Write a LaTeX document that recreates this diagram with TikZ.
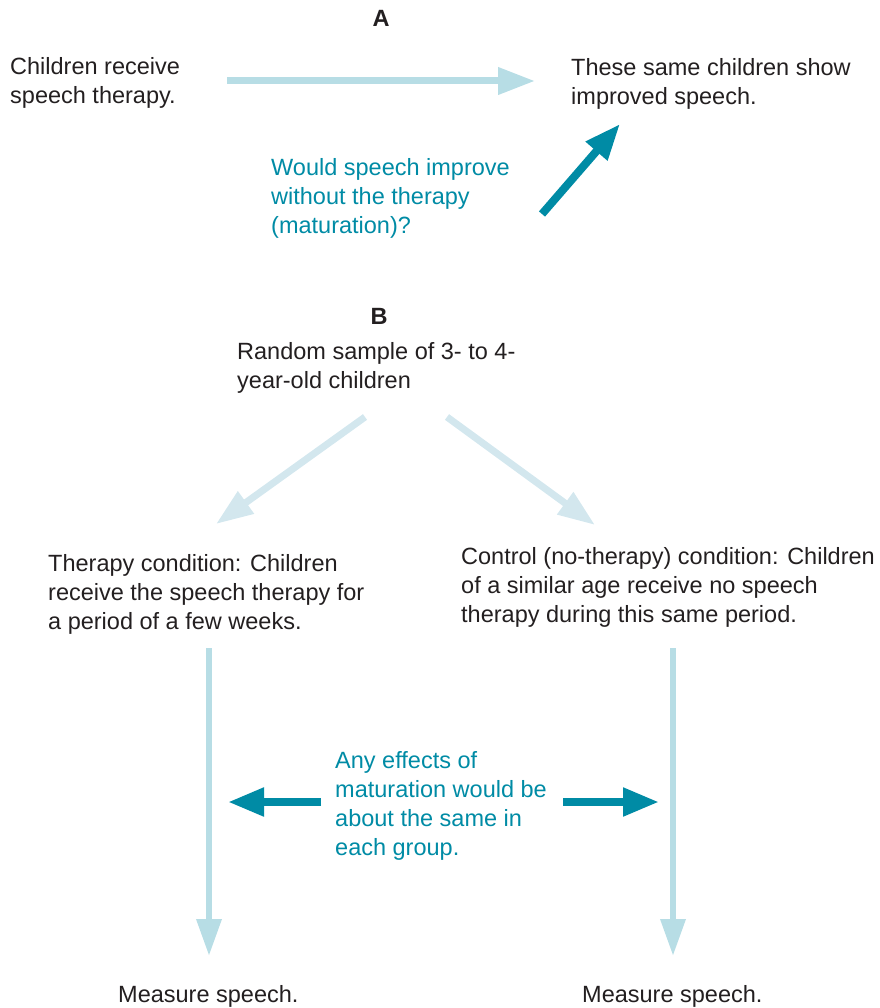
\documentclass[tikz,border=0pt]{standalone}
\usepackage{fontspec}
\setmainfont{Liberation Sans}
\usetikzlibrary{arrows.meta}
\definecolor{paleblue}{RGB}{183,221,229}
\definecolor{fadedblue}{RGB}{211,231,238}
\definecolor{darkteal}{RGB}{0,139,165}
\definecolor{inkgray}{RGB}{35,31,32}

\begin{document}
\begin{tikzpicture}[x=1pt, y=-1pt,
    txt/.style={anchor=north west, align=left, inner sep=0pt, text=inkgray, font=\fontsize{23.5}{29}\selectfont},
    qtxt/.style={txt, text=darkteal},
    lbl/.style={inner sep=0pt, text=inkgray, font=\fontsize{23.5}{29}\selectfont\bfseries},
    flow/.style={paleblue, line width=7pt, -{Triangle[length=37pt, width=26pt]}},
    split/.style={flow, fadedblue},
    effect/.style={darkteal, line width=8pt, -{Triangle[length=36pt, width=27pt]}}]
  \useasboundingbox (0,0) rectangle (879,1008);

  % panel A
  \node[lbl] (labA) at (381,18) {A};
  \node[txt] (therapyA) at (10,57) {Children receive\\speech therapy.};
  \node[txt] (improvedA) at (571,58) {These same children show\\improved speech.};
  \node[qtxt] (question) at (271,158) {Would speech improve\\without the therapy\\(maturation)?};
  \coordinate (aFrom) at (227,81);
  \coordinate (aTo) at (535,81);
  \draw[flow] (aFrom) -- (aTo);
  \coordinate (qFrom) at (542,214);
  \coordinate (qTo) at (620,124);
  \draw[effect] (qFrom) -- (qTo);

  % panel B
  \node[lbl] (labB) at (379,316) {B};
  \node[txt] (sample) at (237,342) {Random sample of 3- to 4-\\year-old children};
  \node[txt] (therapyB) at (48,554) {Therapy condition: Children\\receive the speech therapy for\\a period of a few weeks.};
  \node[txt] (control) at (461,547) {Control (no-therapy) condition: Children\\of a similar age receive no speech\\therapy during this same period.};
  \node[qtxt] (maturation) at (335,751) {Any effects of\\maturation would be\\about the same in\\each group.};
  \node[txt] (measureL) at (118,985) {Measure speech.};
  \node[txt] (measureR) at (582,985) {Measure speech.};

  % split into the two groups
  \coordinate (splitL) at (365,417);
  \coordinate (splitLend) at (216,524);
  \coordinate (splitR) at (447,417);
  \coordinate (splitRend) at (595,525);
  \draw[split] (splitL) -- (splitLend);
  \draw[split] (splitR) -- (splitRend);

  % down to the measurements
  \coordinate (downL) at (209,648);
  \coordinate (downLend) at (209,956);
  \coordinate (downR) at (673,648);
  \coordinate (downRend) at (673,956);
  \draw[flow, line width=6.5pt, -{Triangle[length=37pt, width=24pt]}] (downL) -- (downLend);
  \draw[flow, line width=6.5pt, -{Triangle[length=37pt, width=24pt]}] (downR) -- (downRend);

  % maturation acts on both
  \coordinate (effL) at (321,802);
  \coordinate (effLend) at (228,802);
  \coordinate (effR) at (563,802);
  \coordinate (effRend) at (659,802);
  \draw[effect] (effL) -- (effLend);
  \draw[effect] (effR) -- (effRend);
\end{tikzpicture}
\end{document}
